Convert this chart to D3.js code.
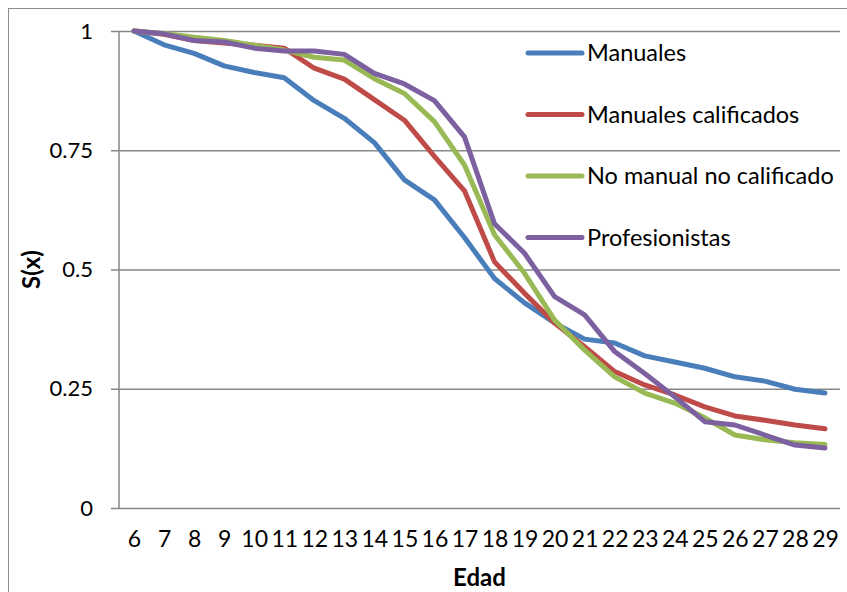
<!DOCTYPE html>
<html>
<head>
<meta charset="utf-8">
<script src="https://cdn.jsdelivr.net/npm/d3@7"></script>
<style>
  body { margin: 0; background: #fff; }
  svg { display: block; font-family: Lato, "Open Sans", sans-serif; }
</style>
</head>
<body>
<div id="chart"></div>
<script>
// SECTION A:: DATA
const edades = [6,7,8,9,10,11,12,13,14,15,16,17,18,19,20,21,22,23,24,25,26,27,28,29];

const manuales = [1.0,0.971,0.953,0.927,0.913,0.902,0.854,0.817,0.766,0.688,0.646,0.567,0.481,0.43,0.388,0.354,0.346,0.319,0.306,0.293,0.275,0.266,0.249,0.241];
const manualesCalif = [1.0,0.993,0.98,0.975,0.97,0.964,0.922,0.899,0.856,0.813,0.737,0.665,0.516,0.45,0.388,0.338,0.286,0.258,0.237,0.212,0.193,0.184,0.174,0.166];
const noManual = [1.0,0.995,0.987,0.98,0.97,0.96,0.945,0.939,0.9,0.869,0.81,0.719,0.573,0.492,0.394,0.331,0.275,0.241,0.22,0.189,0.153,0.143,0.137,0.133];
const profesionistas = [1.0,0.994,0.98,0.977,0.964,0.958,0.958,0.951,0.911,0.889,0.854,0.778,0.596,0.534,0.443,0.405,0.328,0.282,0.233,0.181,0.174,0.153,0.132,0.126];

const seriesNames = ["Manuales", "Manuales calificados", "No manual no calificado", "Profesionistas"];
const seriesColors = ["#4a7ebb", "#be4b48", "#98b954", "#7d60a0"];
const yTicks = [0, 0.25, 0.5, 0.75, 1];
const yTickLabels = ["0", "0.25", "0.5", "0.75", "1"];

// SECTION B:: DRAWING
const width = 847, height = 592;
const plot = {left: 119, right: 840, top: 31, bottom: 508};

const svg = d3.select('#chart').append('svg')
    .attr('width', width)
    .attr('height', height);

// outer chart border (only top/left are inside the picture)
svg.append('rect')
    .attr('x', 8.5).attr('y', 8.5)
    .attr('width', 1000).attr('height', 1000)
    .attr('fill', 'none')
    .attr('stroke', '#8c8c8c')
    .attr('stroke-width', 1);

const x = d3.scalePoint()
    .domain(edades)
    .range([plot.left, plot.right])
    .padding(0.5);

const y = d3.scaleLinear()
    .domain([0, 1])
    .range([plot.bottom, plot.top]);

// gridlines + y ticks
svg.append('g')
    .attr('transform', 'translate(' + plot.left + ',0)')
    .call(d3.axisLeft(y)
        .tickValues(yTicks)
        .tickSize(plot.left - plot.right)
        .tickPadding(0)
        .tickFormat(''))
    .call(g => g.select('.domain').remove())
    .call(g => g.selectAll('.tick line')
        .attr('x1', -8)
        .attr('stroke', '#878787')
        .attr('stroke-width', 1.5));

// y tick labels
svg.append('g').selectAll('text')
    .data(yTicks)
    .enter().append('text')
    .attr('x', 93)
    .attr('y', d => y(d))
    .attr('dy', '0.35em')
    .attr('text-anchor', 'end')
    .attr('font-size', 22)
    .attr('fill', '#000')
    .text((d, i) => yTickLabels[i]);

// vertical axis line
svg.append('line')
    .attr('x1', plot.left).attr('x2', plot.left)
    .attr('y1', plot.top).attr('y2', plot.bottom)
    .attr('stroke', '#878787')
    .attr('stroke-width', 1.5);

// x tick labels
svg.append('g')
    .attr('transform', 'translate(0,' + plot.bottom + ')')
    .call(d3.axisBottom(x).tickSize(0).tickPadding(23))
    .call(g => g.select('.domain').remove())
    .call(g => g.selectAll('text')
        .attr('font-size', 23)
        .attr('font-family', 'Lato, "Open Sans", sans-serif')
        .attr('fill', '#000'));

// axis titles
svg.append('text')
    .attr('x', (plot.left + plot.right) / 2)
    .attr('y', 578)
    .attr('dy', '0.35em')
    .attr('text-anchor', 'middle')
    .attr('font-size', 24)
    .attr('font-weight', 'bold')
    .text('Edad');

svg.append('text')
    .attr('transform', 'translate(32,' + ((plot.top + plot.bottom) / 2) + ') rotate(-90)')
    .attr('dy', '0.35em')
    .attr('text-anchor', 'middle')
    .attr('font-size', 24)
    .attr('font-weight', 'bold')
    .text('S(x)');

// lines
const allSeries = [manuales, manualesCalif, noManual, profesionistas];
const line = d3.line()
    .x((d, i) => x(edades[i]))
    .y(d => y(d));

svg.append('g').selectAll('path')
    .data(allSeries)
    .enter().append('path')
    .attr('fill', 'none')
    .attr('stroke', (d, i) => seriesColors[i])
    .attr('stroke-width', 5)
    .attr('stroke-linejoin', 'round')
    .attr('stroke-linecap', 'round')
    .attr('d', line);

// legend
const legend = svg.append('g').selectAll('g')
    .data(seriesNames)
    .enter().append('g')
    .attr('transform', (d, i) => 'translate(528,' + (53 + i * 61.5) + ')');

legend.append('line')
    .attr('x1', 0).attr('x2', 54)
    .attr('stroke', (d, i) => seriesColors[i])
    .attr('stroke-width', 5)
    .attr('stroke-linecap', 'round');

legend.append('text')
    .attr('x', 59)
    .attr('dy', '0.35em')
    .attr('font-size', 23.5)
    .attr('fill', '#000')
    .text(d => d)
    .each(function(){
        // keep the longest label inside the window
        let room = width - 528 - 59 - 3;
        if (this.getComputedTextLength() > room)
            d3.select(this).attr('textLength', room).attr('lengthAdjust', 'spacingAndGlyphs');
    });
</script>
</body>
</html>
